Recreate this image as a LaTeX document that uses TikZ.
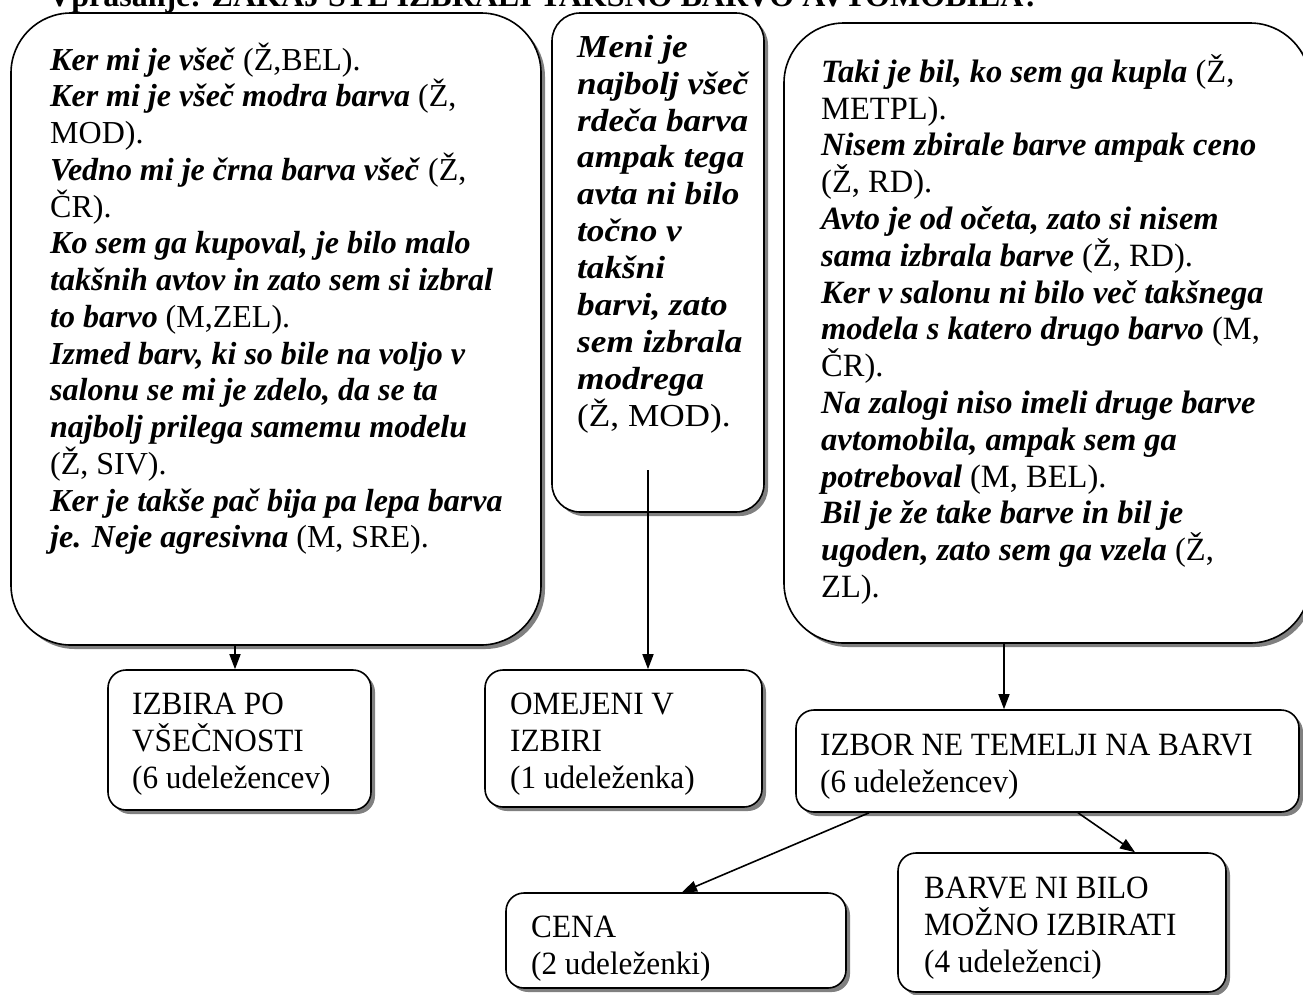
\documentclass[tikz,border=0pt]{standalone}
\usepackage{fontspec}
\setmainfont{Liberation Serif}
\newfontfamily\widefont[FakeStretch=1.1]{Liberation Serif}
\newfontfamily\tallfont[FakeStretch=0.96]{Liberation Serif}
\usetikzlibrary{arrows.meta,shadows}
\newcommand\quotebi[1]{\textbf{\textit{#1}}}
\newcommand\firstline{\rule{0pt}{30pt}}
\begin{document}
\begin{tikzpicture}[x=1pt,y=-1pt,
  bigbox/.style={draw,fill=white,line width=1.6pt,rounded corners=#1,
    drop shadow={shadow xshift=4pt,shadow yshift=-4pt,fill=black!50,opacity=1}},
  smallbox/.style={bigbox=18pt},
  txt/.style={anchor=north west,inner sep=0pt,align=left},
  lbl/.style={anchor=north west,inner sep=0pt,align=left,
    font=\tallfont\fontsize{32.5}{37}\selectfont},
  arr/.style={line width=1.6pt,-{Triangle[length=15pt,width=11pt]}}]
\useasboundingbox (0,0) rectangle (1303,994);
\clip (0,0) rectangle (1303,994);
\fill[white] (0,0) rectangle (1303,994);

% question heading, mostly above the page edge
\node[anchor=base west,inner sep=0pt,font=\fontsize{32}{36}\selectfont\bfseries]
  (head) at (48,6) {Vprašanje: ZAKAJ STE IZBRALI TAKŠNO BARVO AVTOMOBILA?};

% answer groups
\node[bigbox=60pt,minimum width=530pt,minimum height=632pt] (L) at (276,329) {};
\node[bigbox=28pt,minimum width=212pt,minimum height=499pt] (M) at (658,262.5) {};
\node[bigbox=60pt,minimum width=526pt,minimum height=620pt] (R) at (1047,333) {};

\node[txt,font=\fontsize{32}{36.75}\selectfont] (Ltext) at (50,40) {\firstline\quotebi{Ker mi je všeč} (Ž,BEL).\\
\quotebi{Ker mi je všeč modra barva} (Ž,\\
MOD).\\
\quotebi{Vedno mi je črna barva všeč} (Ž,\\
ČR).\\
\quotebi{Ko sem ga kupoval, je bilo malo}\\
\quotebi{takšnih avtov in zato sem si izbral}\\
\quotebi{to barvo} (M,ZEL).\\
\quotebi{Izmed barv, ki so bile na voljo v}\\
\quotebi{salonu se mi je zdelo, da se ta}\\
\quotebi{najbolj prilega samemu modelu}\\
(Ž, SIV).\\
\quotebi{Ker je takše pač bija pa lepa barva}\\
\quotebi{je. Neje agresivna} (M, SRE).};

\node[txt,font=\widefont\fontsize{32}{36.9}\selectfont] (Mtext) at (577,27) {\firstline\quotebi{Meni je}\\
\quotebi{najbolj všeč}\\
\quotebi{rdeča barva}\\
\quotebi{ampak tega}\\
\quotebi{avta ni bilo}\\
\quotebi{točno v}\\
\quotebi{takšni}\\
\quotebi{barvi, zato}\\
\quotebi{sem izbrala}\\
\quotebi{modrega}\\
(Ž, MOD).};

\node[txt,font=\fontsize{32.5}{36.8}\selectfont] (Rtext) at (821,52) {\firstline\quotebi{Taki je bil, ko sem ga kupla} (Ž,\\
METPL).\\
\quotebi{Nisem zbirale barve ampak ceno}\\
(Ž, RD).\\
\quotebi{Avto je od očeta, zato si nisem}\\
\quotebi{sama izbrala barve} (Ž, RD).\\
\quotebi{Ker v salonu ni bilo več takšnega}\\
\quotebi{modela s katero drugo barvo} (M,\\
ČR).\\
\quotebi{Na zalogi niso imeli druge barve}\\
\quotebi{avtomobila, ampak sem ga}\\
\quotebi{potreboval} (M, BEL).\\
\quotebi{Bil je že take barve in bil je}\\
\quotebi{ugoden, zato sem ga vzela} (Ž,\\
ZL).};

% categories
\node[smallbox,minimum width=263pt,minimum height=140pt] (P) at (239.5,740) {};
\node[smallbox,minimum width=277pt,minimum height=137pt] (O) at (623.5,738.5) {};
\node[smallbox,minimum width=503pt,minimum height=102pt] (IZ) at (1047.5,761) {};
\node[smallbox,minimum width=340pt,minimum height=95pt] (C) at (676,940.5) {};
\node[smallbox,minimum width=328pt,minimum height=139pt] (B) at (1062,922.5) {};

\node[lbl] (Ptext) at (132,684) {\firstline IZBIRA PO\\VŠEČNOSTI\\(6 udeležencev)};
\node[lbl] (Otext) at (510,684) {\firstline OMEJENI V\\IZBIRI\\(1 udeleženka)};
\node[lbl] (IZtext) at (820,725) {\firstline IZBOR NE TEMELJI NA BARVI\\(6 udeležencev)};
\node[lbl] (Ctext) at (531,907) {\firstline CENA\\(2 udeleženki)};
\node[lbl] (Btext) at (924,868) {\firstline BARVE NI BILO\\MOŽNO IZBIRATI\\(4 udeleženci)};

% connectors
\coordinate (lx) at (235,0);
\coordinate (mstart) at (648,470);
\coordinate (rx) at (1004,0);
\coordinate (cfrom) at (869,0);
\coordinate (cto) at (682,0);
\coordinate (bfrom) at (1078,0);
\coordinate (bto) at (1135,0);

\draw[arr] (L.south -| lx) -- (P.north -| lx);
\draw[arr] (mstart) -- (O.north -| mstart);
\draw[arr] (R.south -| rx) -- (IZ.north -| rx);
\draw[arr] (IZ.south -| cfrom) -- (C.north -| cto);
\draw[arr] (IZ.south -| bfrom) -- (B.north -| bto);
\end{tikzpicture}
\end{document}
